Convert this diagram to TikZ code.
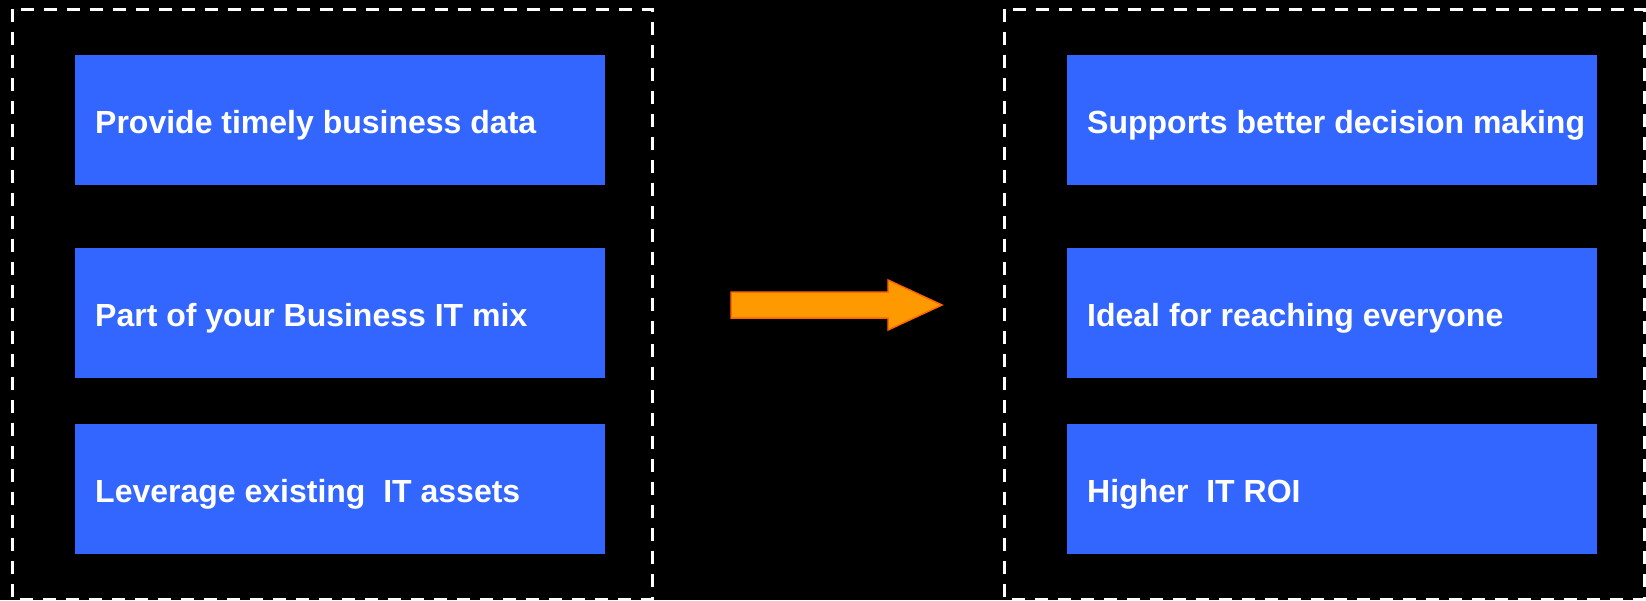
\documentclass[tikz,border=0pt]{standalone}
\usepackage{fontspec}
\setmainfont{Liberation Sans}
\begin{document}
\begin{tikzpicture}[x=1pt,y=-1pt,
  bluebox/.style={fill=boxblue, draw=none, minimum width=530pt, minimum height=130pt, inner sep=0pt, anchor=north west},
  boxtext/.style={text=white, font=\bfseries\fontsize{32}{38}\selectfont, anchor=base west, inner sep=0pt},
  frame/.style={draw=white, line width=3pt, dash pattern=on 13pt off 10pt}
]
\definecolor{boxblue}{HTML}{3366FF}
\definecolor{arrowfill}{HTML}{FF9900}
\definecolor{arrowdraw}{HTML}{FF6600}
\fill[black] (0,0) rectangle (1646,600);
\useasboundingbox (0,0) rectangle (1646,600);
% frames
\draw[frame] (12,9) rectangle (652,599);
\draw[frame] (1004,9) rectangle (1644,599);
% boxes
\node[bluebox] (l1) at (75,55) {};
\node[bluebox] (l2) at (75,248) {};
\node[bluebox] (l3) at (75,424) {};
\node[bluebox] (r1) at (1067,55) {};
\node[bluebox] (r2) at (1067,248) {};
\node[bluebox] (r3) at (1067,424) {};
\node[boxtext] (t1) at (95,133) {Provide timely business data};
\node[boxtext] (t2) at (95,326) {Part of your Business IT mix};
\node[boxtext] (t3) at (95,502) {Leverage existing~ IT assets};
\node[boxtext] (u1) at (1087,133) {Supports better decision making};
\node[boxtext] (u2) at (1087,326) {Ideal for reaching everyone};
\node[boxtext] (u3) at (1087,502) {Higher~ IT ROI};
% arrow
\filldraw[fill=arrowfill, draw=arrowdraw, line width=1.5pt, line join=miter]
  (731,292) -- (888,292) -- (888,280) -- (942,305) -- (888,330) -- (888,318) -- (731,318) -- cycle;
\end{tikzpicture}
\end{document}
